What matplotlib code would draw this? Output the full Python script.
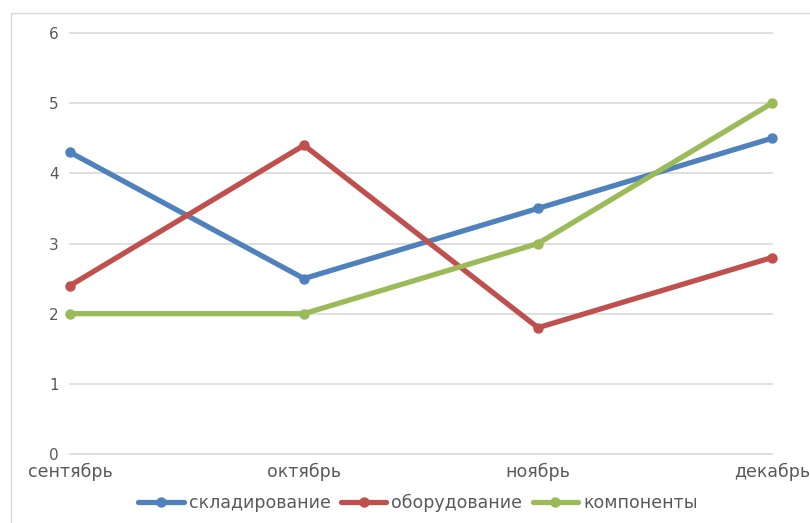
import matplotlib
matplotlib.use("Agg")
import matplotlib.pyplot as plt
from matplotlib.patches import Rectangle

months = ["сентябрь", "октябрь", "ноябрь", "декабрь"]
skladirovanie = [4.3, 2.5, 3.5, 4.5]
oborudovanie = [2.4, 4.4, 1.8, 2.8]
komponenty = [2, 2, 3, 5]
series_names = ["складирование", "оборудование", "компоненты"]
colors = ["#4F81BD", "#C0504D", "#9BBB59"]

W, H = 810, 523
fig = plt.figure(figsize=(W/100, H/100), dpi=100)
fig.patches.append(Rectangle((11/W, -0.1), 1.0, 1 - 13/H + 0.1, transform=fig.transFigure,
                             fill=False, edgecolor="#d9d9d9", linewidth=1.0))
ax = fig.add_axes([70/W, 1 - 454/H, (772-70)/W, (454-33)/H])

x = list(range(len(months)))
for vals, name, c in zip([skladirovanie, oborudovanie, komponenty], series_names, colors):
    ax.plot(x, vals, color=c, linewidth=3.8, marker="o", markersize=6.5, label=name,
            solid_capstyle="round", clip_on=False, zorder=3)

ax.set_xlim(0, 3)
ax.set_ylim(0, 6)
ax.set_yticks(range(0, 7))
ax.set_xticks(x)
ax.set_xticklabels(months)
for yv in range(0, 7):
    ax.axhline(yv, color="#d9d9d9", linewidth=1.2, clip_on=False, zorder=1)
for s in ax.spines.values():
    s.set_visible(False)
ax.tick_params(axis="both", length=0, colors="#595959")
ax.tick_params(axis="y", pad=8, labelsize=11)
ax.tick_params(axis="x", pad=6.5, labelsize=12.5)

fig.legend(loc="center", bbox_to_anchor=(418/W, 1 - 503/H), ncol=3, frameon=False,
           fontsize=12.5, labelcolor="#595959", handlelength=2.6, handletextpad=0.3,
           columnspacing=0.6)

fig.savefig("out.png", dpi=100)
